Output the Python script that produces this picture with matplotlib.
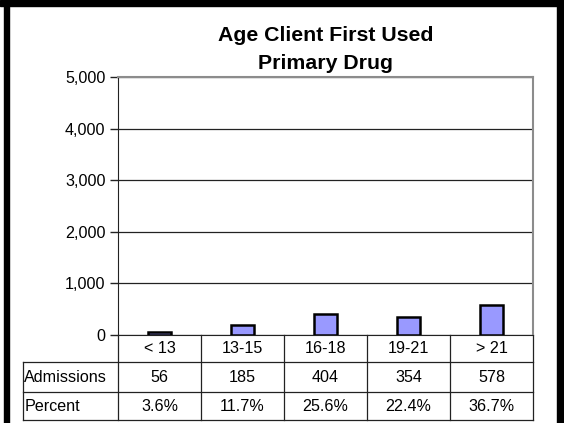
import matplotlib.pyplot as plt
from matplotlib.patches import Rectangle

plt.rcParams['font.family'] = ['Liberation Sans', 'DejaVu Sans']

# data
ages = ["< 13", "13-15", "16-18", "19-21", "> 21"]
admissions = [56, 185, 404, 354, 578]
percents = ["3.6%", "11.7%", "25.6%", "22.4%", "36.7%"]
row_labels = ["Admissions", "Percent"]

W, H = 564, 423
fs = 11.6
fig = plt.figure(figsize=(W / 100, H / 100), dpi=100)
ax = fig.add_axes([118 / W, 1 - 335 / H, (533 - 118) / W, (335 - 77) / H])

x = list(range(len(ages)))
ax.bar(x, admissions, width=0.28, color='#9999ff', edgecolor='black', linewidth=1.8, zorder=3)

ax.set_xlim(-0.5, len(ages) - 0.5)
ax.set_ylim(0, 5000)
ax.set_yticks(range(0, 5001, 1000))
ax.set_yticklabels([f"{v:,}" for v in range(0, 5001, 1000)], fontsize=fs)
ax.set_xticks([])
ax.grid(axis='y', color='#222222', linewidth=0.9, zorder=0)
ax.tick_params(axis='y', length=6, width=1, color='#222222', pad=3)
ax.spines['left'].set_color('#222222')
ax.spines['bottom'].set_color('#222222')
ax.spines['top'].set_color('#8c8c8c')
ax.spines['right'].set_color('#8c8c8c')
ax.spines['top'].set_linewidth(1.5)
ax.spines['right'].set_linewidth(1.5)

# data table under the chart
tr = ax.get_xaxis_transform()
ah = 335 - 77
rows_y = [0, -(362 - 335) / ah, -(392 - 335) / ah, -(420 - 335) / ah]
left_x = (23 - 118) / 83 - 0.5
lc = '#222222'
lw = 0.9
# horizontal lines
for yy in rows_y[1:]:
    ax.plot([left_x, 4.5], [yy, yy], transform=tr, clip_on=False, color=lc, lw=lw)
# vertical lines
for i in range(len(ages) + 1):
    ax.plot([i - 0.5] * 2, [rows_y[0], rows_y[3]], transform=tr, clip_on=False, color=lc, lw=lw)
ax.plot([left_x] * 2, [rows_y[1], rows_y[3]], transform=tr, clip_on=False, color=lc, lw=lw)

for i, lab in enumerate(ages):
    ax.text(i, (rows_y[0] + rows_y[1]) / 2, lab, transform=tr, ha='center', va='center', fontsize=fs)
    ax.text(i, (rows_y[1] + rows_y[2]) / 2, str(admissions[i]), transform=tr, ha='center', va='center', fontsize=fs)
    ax.text(i, (rows_y[2] + rows_y[3]) / 2, percents[i], transform=tr, ha='center', va='center', fontsize=fs)
for j, lab in enumerate(row_labels):
    ax.text(left_x + 0.015, (rows_y[j + 1] + rows_y[j + 2]) / 2, lab, transform=tr,
            ha='left', va='center', fontsize=fs)

# title
fig.text(325.5 / W, 1 - 49.5 / H, "Age Client First Used\nPrimary Drug", ha='center', va='center',
         fontsize=15.3, fontweight='bold', linespacing=1.62)

# black frame
fig.patches.append(Rectangle((0, 1 - 6 / H), 1, 6 / H, transform=fig.transFigure, color='black'))
fig.patches.append(Rectangle((4 / W, 0), 5 / W, 1, transform=fig.transFigure, color='black'))
fig.patches.append(Rectangle((557 / W, 0), 7 / W, 1, transform=fig.transFigure, color='black'))

fig.savefig('out.png', dpi=100)
